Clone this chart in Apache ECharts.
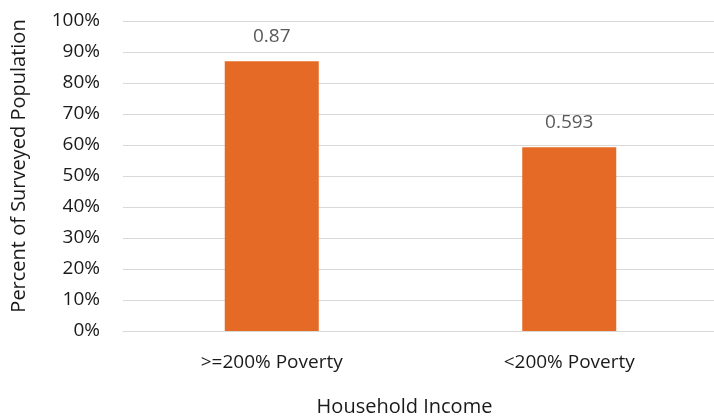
<!DOCTYPE html>
<html><head><meta charset="utf-8">
<script src="https://cdn.jsdelivr.net/npm/echarts@6/dist/echarts.min.js"></script>
<style>html,body{margin:0;padding:0;background:#fff;}#c{width:714px;height:420px;}</style>
</head><body><div id="c"></div>
<script>
const categories = [">=200% Poverty", "<200% Poverty"];
const values = [0.87, 0.593];
const yTicks = [0, 0.1, 0.2, 0.3, 0.4, 0.5, 0.6, 0.7, 0.8, 0.9, 1.0];
const xAxisTitle = "Household Income";
const yAxisTitle = "Percent of Surveyed Population";

const FONT = "Open Sans";
const chart = echarts.init(document.getElementById('c'));
chart.setOption({
  animation: false,
  textStyle: { fontFamily: FONT },
  grid: { left: 123, top: 21, width: 595, height: 310, containLabel: false, outerBoundsMode: 'none' },
  xAxis: {
    type: 'category', data: categories,
    axisLine: { lineStyle: { color: '#d9d9d9', width: 1 } },
    axisTick: { show: false },
    axisLabel: { color: '#1a1a1a', fontSize: 19, fontFamily: FONT, margin: 22 },
    name: xAxisTitle, nameLocation: 'middle', nameGap: 66,
    nameTextStyle: { color: '#1a1a1a', fontSize: 20, fontFamily: FONT, padding: [0, 32, 0, 0] }
  },
  yAxis: {
    type: 'value', min: 0, max: 1, interval: 0.1,
    axisLine: { show: false }, axisTick: { show: false },
    splitLine: { lineStyle: { color: '#d9d9d9', width: 1 } },
    axisLabel: { color: '#1a1a1a', fontSize: 19, fontFamily: FONT, margin: 23,
      formatter: v => { const t = yTicks.find(x => Math.abs(x - v) < 1e-6); return Math.round((t ?? v) * 100) + '%'; } },
    name: yAxisTitle, nameLocation: 'middle', nameGap: 94, nameRotate: 90,
    nameTextStyle: { color: '#1a1a1a', fontSize: 20, fontFamily: FONT, padding: [0, 0, 0, 20] }
  },
  series: [{
    type: 'bar', data: values, barWidth: '31.6%',
    itemStyle: { color: '#E46A25' },
    label: { show: true, position: 'top', distance: 15, color: '#595959', fontSize: 19, fontFamily: FONT,
      formatter: p => String(p.value) }
  }]
});
</script></body></html>
